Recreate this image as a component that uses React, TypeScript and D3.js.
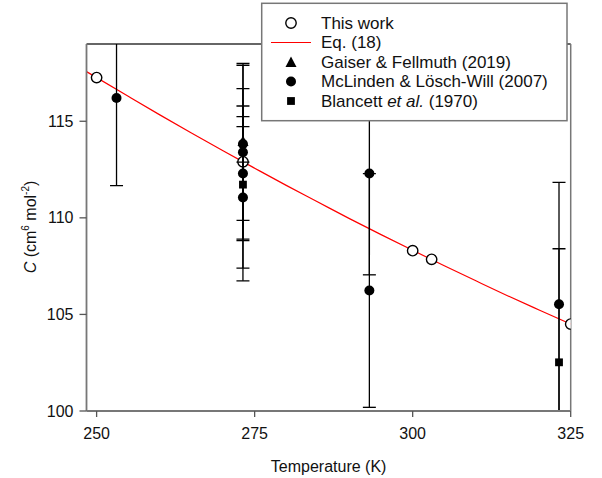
import React from "react";
import * as d3 from "d3";

// ---- data ----
const thisWorkT = [250, 273.16, 300, 303, 325];
const thisWorkC = [117.26, 112.9, 108.3, 107.85, 104.5];

const eqT = [248.4, 255, 260, 265, 270, 275, 280, 285, 290, 295, 300, 305, 310, 315, 320, 325];
const eqC = [117.57, 116.29, 115.33, 114.39, 113.47, 112.57, 111.68, 110.82, 109.96, 109.13, 108.32, 107.52, 106.74, 105.97, 105.23, 104.5];

const gaiserT = [273.16];
const gaiserC = [113.95];
const gaiserLo = [109.87];
const gaiserHi = [118.0];

const mclindenT = [253.15, 273.15, 273.15, 273.15, 273.15, 293.15, 293.15, 323.15];
const mclindenC = [116.2, 113.82, 113.4, 112.3, 111.05, 112.3, 106.24, 105.53];
const mclindenLo = [111.67, 112.88, 108.9, 108.82, 107.4, 107.05, 100.19, 99.2];
const mclindenHi = [120.7, 114.72, 117.9, 115.79, 115.24, 117.55, 112.29, 111.84];

const blancettT = [273.15, 323.15];
const blancettC = [111.72, 102.52];
const blancettLo = [106.74, 96.6];
const blancettHi = [116.69, 108.4];

const xTicks = [250, 275, 300, 325];
const yTicks = [100, 105, 110, 115];

const W = 602, H = 478;
const L = 86.5, R = 570.7, T = 44, B = 411;
const FONT = "'Liberation Sans', Arial, sans-serif";

export default function App() {
  const x = d3.scaleLinear().domain([248.4, 325]).range([L, R]);
  const y = d3.scaleLinear().domain([100, 119]).range([B, T]);
  const line = d3.line<[number, number]>().x(d => x(d[0])).y(d => y(d[1])).curve(d3.curveMonotoneX);
  const eqPts: [number, number][] = eqT.map((t, i) => [t, eqC[i]]);

  const capW = 6.5;
  const errBars = (ts: number[], lo: number[], hi: number[], key: string) =>
    ts.map((t, i) => (
      <g key={key + i} stroke="#000" strokeWidth={1.3}>
        <line x1={x(t)} x2={x(t)} y1={y(lo[i])} y2={y(hi[i])} />
        <line x1={x(t) - capW} x2={x(t) + capW} y1={y(lo[i])} y2={y(lo[i])} />
        <line x1={x(t) - capW} x2={x(t) + capW} y1={y(hi[i])} y2={y(hi[i])} />
      </g>
    ));

  const tri = (cx: number, cy: number, s: number) =>
    `M${cx},${cy - s * 0.6}L${cx + s * 0.55},${cy + s * 0.45}L${cx - s * 0.55},${cy + s * 0.45}Z`;

  const legendRows = [
    { label: <tspan>This work</tspan> },
    { label: <tspan>Eq. (18)</tspan> },
    { label: <tspan>Gaiser &amp; Fellmuth (2019)</tspan> },
    { label: <tspan>McLinden &amp; Lösch-Will (2007)</tspan> },
    { label: <><tspan>Blancett </tspan><tspan fontStyle="italic">et al.</tspan><tspan> (1970)</tspan></> },
  ];
  const legY = [23, 42.5, 62, 81.5, 101];
  const symX = 291;

  return (
    <svg width={W} height={H} style={{ position: "absolute", left: 0, top: 0 }} fontFamily={FONT}>
      <rect width={W} height={H} fill="#fff" />
      <defs>
        <clipPath id="plotclip">
          <rect x={L} y={T} width={R - L} height={B - T} />
        </clipPath>
      </defs>

      {/* frame */}
      <line x1={L} x2={R} y1={T} y2={T} stroke="#333" strokeWidth={1.5} />
      <line x1={R} x2={R} y1={T} y2={B} stroke="#777" strokeWidth={1.5} />

      <g clipPath="url(#plotclip)">
        <path d={line(eqPts) || ""} fill="none" stroke="#ff0000" strokeWidth={1.2} />
        {thisWorkT.map((t, i) => (
          <circle key={"tw" + i} cx={x(t)} cy={y(thisWorkC[i])} r={5.2} fill="#fff" stroke="#000" strokeWidth={1.4} />
        ))}
        {errBars(gaiserT, gaiserLo, gaiserHi, "ge")}
        {errBars(mclindenT, mclindenLo, mclindenHi, "me")}
        {errBars(blancettT, blancettLo, blancettHi, "be")}
        {gaiserT.map((t, i) => (
          <path key={"g" + i} d={tri(x(t), y(gaiserC[i]), 10)} fill="#000" />
        ))}
        {mclindenT.map((t, i) => (
          <circle key={"m" + i} cx={x(t)} cy={y(mclindenC[i])} r={5} fill="#000" />
        ))}
        {blancettT.map((t, i) => (
          <rect key={"b" + i} x={x(t) - 3.9} y={y(blancettC[i]) - 3.9} width={7.8} height={7.8} fill="#000" />
        ))}
      </g>

      {/* axes */}
      <line x1={L} x2={L} y1={T} y2={B} stroke="#777" strokeWidth={1.8} />
      <line x1={L} x2={R} y1={B} y2={B} stroke="#777" strokeWidth={1.8} />
      {yTicks.map(v => (
        <g key={"yt" + v}>
          <line x1={L - 7} x2={L} y1={y(v)} y2={y(v)} stroke="#555" strokeWidth={1.3} />
          <text x={L - 13} y={y(v)} dy="0.35em" textAnchor="end" fontSize={16} fill="#111">{v}</text>
        </g>
      ))}
      {xTicks.map(v => (
        <g key={"xt" + v}>
          <line x1={x(v)} x2={x(v)} y1={B} y2={B + 6} stroke="#555" strokeWidth={1.3} />
          <text x={x(v)} y={438.5} textAnchor="middle" fontSize={16} fill="#111">{v}</text>
        </g>
      ))}
      <text x={(L + R) / 2} y={472} textAnchor="middle" fontSize={16} fill="#111">Temperature (K)</text>
      <text transform={`translate(36,227) rotate(-90)`} textAnchor="middle" fontSize={16} fill="#111">
        <tspan fontStyle="italic">C</tspan>
        <tspan> (cm</tspan>
        <tspan fontSize={10} dy={-7}>6</tspan>
        <tspan dy={7}> mol</tspan>
        <tspan fontSize={10} dy={-7}>-2</tspan>
        <tspan dy={7}>)</tspan>
      </text>

      {/* legend */}
      <rect x={261.7} y={3.3} width={305.3} height={117.4} fill="#fff" stroke="#777" strokeWidth={1.5} />
      <circle cx={symX} cy={legY[0]} r={5.2} fill="#fff" stroke="#000" strokeWidth={1.4} />
      <line x1={271} x2={311} y1={legY[1]} y2={legY[1]} stroke="#ff0000" strokeWidth={1.2} />
      <path d={tri(symX, legY[2] + 0.5, 10)} fill="#000" />
      <circle cx={symX} cy={legY[3]} r={5} fill="#000" />
      <rect x={symX - 3.9} y={legY[4] - 3.9} width={7.8} height={7.8} fill="#000" />
      {legendRows.map((r, i) => (
        <text key={"lt" + i} x={321} y={legY[i] + 5.7} fontSize={17} fill="#111">{r.label}</text>
      ))}
    </svg>
  );
}
